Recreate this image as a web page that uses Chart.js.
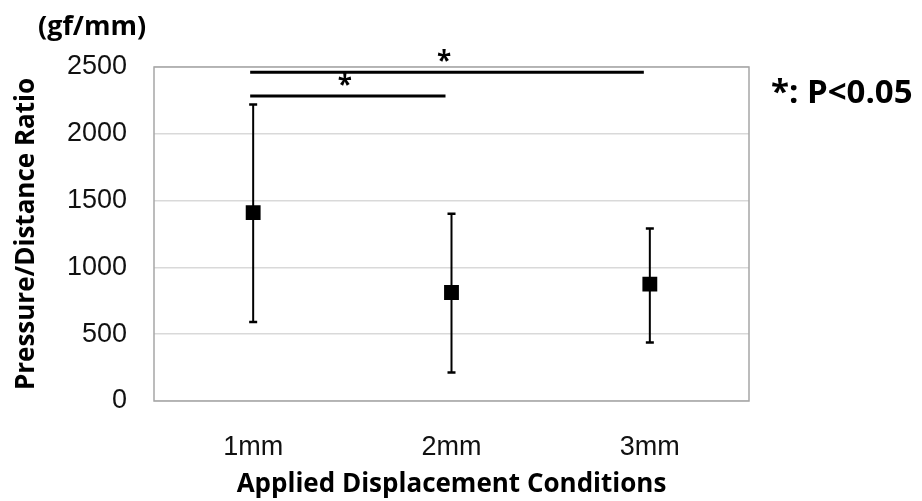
<!DOCTYPE html>
<html>
<head>
<meta charset="utf-8">
<script src="https://cdn.jsdelivr.net/npm/chart.js@4/dist/chart.umd.min.js"></script>
<style>
  html, body { margin: 0; padding: 0; background: #fff; }
  #wrap { width: 922px; height: 501px; position: relative; }
</style>
</head>
<body>
<div id="wrap"><canvas id="chart"></canvas></div>
<script>
// data
var conditions = ["1mm", "2mm", "3mm"];
var meanRatio = [1410, 812, 875];
var lowerRatio = [592, 213, 437];
var upperRatio = [2220, 1401, 1292];
var yTicks = [0, 500, 1000, 1500, 2000, 2500];
// significance brackets: [from index, to index, height in data units]
var sigPairs = [[0, 2, 2460], [0, 1, 2282]];

var titleFont = "'Open Sans', sans-serif";
var tickFont = "'Liberation Sans', Arial, sans-serif";

// error bars, frame and significance marks
var extrasPlugin = {
  id: "extras",
  beforeDatasetsDraw: function (chart) {
    var ctx = chart.ctx;
    var x = chart.scales.x;
    var y = chart.scales.y;
    var area = chart.chartArea;
    ctx.save();
    // plot frame
    ctx.strokeStyle = "#a6a6a6";
    ctx.lineWidth = 1.5;
    ctx.strokeRect(area.left, area.top, area.right - area.left, area.bottom - area.top);

    // error bars
    ctx.strokeStyle = "#000";
    ctx.lineWidth = 2;
    for (var i = 0; i < conditions.length; i++) {
      var px = x.getPixelForValue(i);
      var yl = y.getPixelForValue(lowerRatio[i]);
      var yu = y.getPixelForValue(upperRatio[i]);
      ctx.beginPath();
      ctx.moveTo(px, yl);
      ctx.lineTo(px, yu);
      ctx.stroke();
      ctx.lineWidth = 2.5;
      ctx.beginPath();
      ctx.moveTo(px - 4, yl);
      ctx.lineTo(px + 4, yl);
      ctx.moveTo(px - 4, yu);
      ctx.lineTo(px + 4, yu);
      ctx.stroke();
      ctx.lineWidth = 2;
    }
    ctx.restore();
  },
  afterDraw: function (chart) {
    var ctx = chart.ctx;
    var x = chart.scales.x;
    var y = chart.scales.y;
    ctx.save();
    ctx.strokeStyle = "#000";
    ctx.fillStyle = "#000";
    ctx.lineWidth = 3;
    ctx.textAlign = "center";
    ctx.textBaseline = "middle";
    ctx.font = "bold 26px " + titleFont;
    sigPairs.forEach(function (p) {
      var x1 = x.getPixelForValue(p[0]) - 3;
      var x2 = x.getPixelForValue(p[1]) - 6;
      var py = y.getPixelForValue(p[2]);
      ctx.beginPath();
      ctx.moveTo(x1, py);
      ctx.lineTo(x2, py);
      ctx.stroke();
      ctx.fillText("*", (x1 + x2) / 2 - 3, py - 10);
    });

    // unit label and p-value note
    ctx.textAlign = "left";
    ctx.textBaseline = "alphabetic";
    ctx.font = "bold 27px " + titleFont;
    ctx.fillText("(gf/mm)", 38, 35);
    ctx.font = "bold 33px " + titleFont;
    ctx.fillText("*: P<0.05", 771, 103);
    ctx.restore();
  }
};

new Chart(document.getElementById("chart"), {
  type: "line",
  data: {
    labels: conditions,
    datasets: [
      {
        label: "Pressure/Distance Ratio",
        data: meanRatio,
        showLine: false,
        pointStyle: "rect",
        pointRadius: 10.5,
        pointHoverRadius: 10.5,
        pointBackgroundColor: "#000",
        pointBorderColor: "#000",
        pointBorderWidth: 0,
      },
    ],
  },
  options: {
    responsive: true,
    maintainAspectRatio: false,
    animation: false,
    layout: {
      padding: { top: 67, right: 173, left: 0, bottom: 0 },
    },
    scales: {
      x: {
        offset: true,
        grid: { display: false, drawTicks: false },
        border: { display: false },
        ticks: {
          padding: 30,
          color: "#111",
          font: { family: tickFont, size: 27 },
        },
        title: {
          display: true,
          text: "Applied Displacement Conditions",
          color: "#000",
          font: { family: titleFont, size: 26, weight: "bold" },
          padding: { top: 0, bottom: 1 },
        },
        afterFit: function (scale) {
          scale.height = 100;
        },
      },
      y: {
        min: 0,
        max: 2500,
        afterBuildTicks: function (scale) {
          scale.ticks = yTicks.map(function (v) { return { value: v }; });
        },
        grid: { color: "#d9d9d9", lineWidth: 1.5, drawTicks: false },
        border: { display: false },
        ticks: {
          padding: 27,
          color: "#111",
          font: { family: tickFont, size: 27 },
          callback: function (value) {
            return String(value);
          },
        },
        title: {
          display: true,
          text: "Pressure/Distance Ratio",
          color: "#000",
          font: { family: titleFont, size: 26, weight: "bold" },
          padding: { top: 11, bottom: 0 },
        },
        afterFit: function (scale) {
          scale.width = 154;
        },
      },
    },
    plugins: {
      legend: { display: false },
      tooltip: { enabled: false },
    },
  },
  plugins: [extrasPlugin],
});
</script>
</body>
</html>
